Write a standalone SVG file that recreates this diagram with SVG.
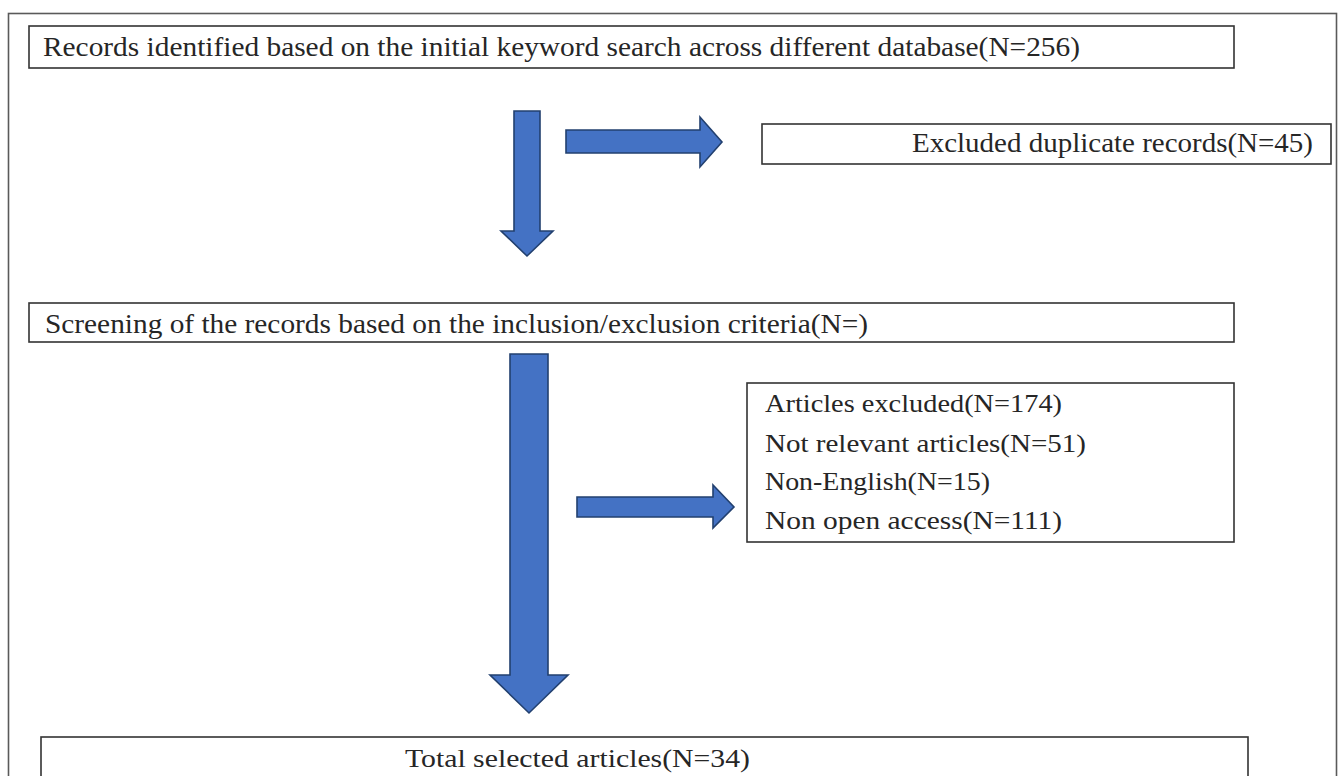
<svg xmlns="http://www.w3.org/2000/svg" width="1338" height="776" viewBox="0 0 1338 776">
<style>
.box{fill:#ffffff;stroke:#333333;stroke-width:1.6}
.frame{fill:#ffffff;stroke:#5a5a5a;stroke-width:1.6}
.t{font-family:"Liberation Serif","Times New Roman",serif;fill:#262626}
.arrow{fill:#4472C4;stroke:#22406f;stroke-width:1.6;stroke-linejoin:miter}
</style>
<rect class="frame" x="8.5" y="13.5" width="1328" height="800"/>
<g id="node-records">
<rect class="box" x="29" y="26" width="1205" height="42"/>
<text class="t" x="43" y="56" font-size="28" textLength="1037" lengthAdjust="spacingAndGlyphs">Records identified based on the initial keyword search across different database(N=256)</text>
</g>
<g id="node-duplicates">
<rect class="box" x="762" y="124" width="569" height="40"/>
<text class="t" x="912" y="152" font-size="28" textLength="401" lengthAdjust="spacingAndGlyphs">Excluded duplicate records(N=45)</text>
</g>
<g id="node-screening">
<rect class="box" x="29" y="303" width="1205" height="39"/>
<text class="t" x="45" y="333" font-size="27" textLength="823" lengthAdjust="spacingAndGlyphs">Screening of the records based on the inclusion/exclusion criteria(N=)</text>
</g>
<g id="node-excluded">
<rect class="box" x="747" y="383" width="487" height="159"/>
<text class="t" x="765" y="412" font-size="26" textLength="297" lengthAdjust="spacingAndGlyphs">Articles excluded(N=174)</text>
<text class="t" x="765" y="452" font-size="26" textLength="321" lengthAdjust="spacingAndGlyphs">Not relevant articles(N=51)</text>
<text class="t" x="765" y="490" font-size="26" textLength="225" lengthAdjust="spacingAndGlyphs">Non-English(N=15)</text>
<text class="t" x="765" y="529" font-size="26" textLength="297" lengthAdjust="spacingAndGlyphs">Non open access(N=111)</text>
</g>
<g id="node-total">
<rect class="box" x="41" y="737" width="1207" height="60"/>
<text class="t" x="405" y="767" font-size="26" textLength="345" lengthAdjust="spacingAndGlyphs">Total selected articles(N=34)</text>
</g>
<g id="connectors">
<polygon class="arrow" points="514,111 540,111 540,231 553,231 527,256 501,231 514,231"/>
<polygon class="arrow" points="566,130 700,130 700,117 722,142 700,167 700,153 566,153"/>
<polygon class="arrow" points="510,354 548,354 548,675 568,675 529,713 490,675 510,675"/>
<polygon class="arrow" points="577,497 713,497 713,485 734,507 713,528 713,517 577,517"/>
</g>
</svg>
